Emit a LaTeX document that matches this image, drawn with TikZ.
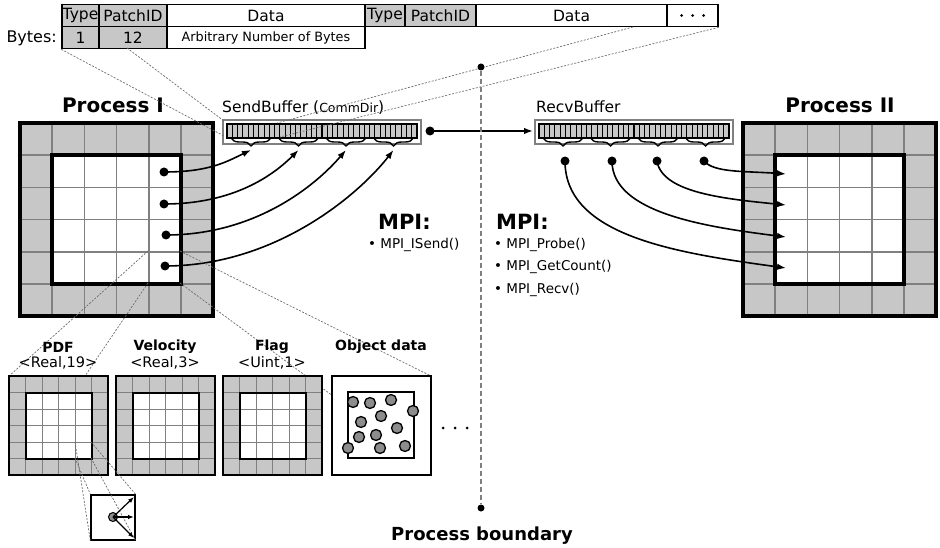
\documentclass[tikz,border=0pt]{standalone}
\usepackage{fontspec}
\setmainfont{DejaVu Sans}
\usetikzlibrary{arrows.meta,decorations.pathreplacing,calc}

\definecolor{cellgray}{gray}{0.78}
\definecolor{gridgray}{gray}{0.5}
\definecolor{guidegray}{gray}{0.42}
\definecolor{bufgray}{gray}{0.5}
\definecolor{partgray}{gray}{0.55}
\newcommand{\pxsize}[1]{\fontsize{#1}{#1}\selectfont}

% 6x6 patch with ghost layer: x, y (top left), cell size, grid line width, frame width
\newcommand{\patchgrid}[5]{%
  \fill[cellgray] (#1,#2) rectangle ++(6*#3,6*#3);
  \fill[white] (#1+#3,#2+#3) rectangle ++(4*#3,4*#3);
  \foreach \i in {1,...,5}{
    \draw[gridgray, line width=#4] (#1+\i*#3,#2) -- ++(0,6*#3);
    \draw[gridgray, line width=#4] (#1,#2+\i*#3) -- ++(6*#3,0);
  }
  \draw[line width=#5] (#1,#2) rectangle ++(6*#3,6*#3);
  \draw[line width=#5] (#1+#3,#2+#3) rectangle ++(4*#3,4*#3);
}

% communication buffer with four message slots: x, y (top left), prefix for brace tips
\newcommand{\msgbuf}[3]{%
  \draw[bufgray, line width=2.5pt, fill=white] (#1,#2) rectangle ++(198,24);
  \fill[cellgray] (#1+4,#2+4) rectangle ++(190,14);
  \foreach \k in {1,...,35} \draw[line width=0.8pt] ({#1+4+\k*190/36},#2+4) -- ++(0,14);
  \foreach \s in {1,2,3} \draw[line width=1.3pt] ({#1+4+\s*47.5},#2+4) -- ++(0,14);
  \draw[line width=1.1pt] (#1+4,#2+4) rectangle ++(190,14);
  \foreach \s in {0,...,3}{
    \draw[decorate, decoration={brace,mirror,amplitude=8pt}, line width=1.4pt]
      ({#1+4+\s*47.5+4},#2+18) -- ({#1+4+\s*47.5+44},#2+18);
    \coordinate (#3\s) at ({#1+4+\s*47.5+24},#2+30);
  }
}

\tikzset{
  hcell/.style={draw=black, line width=1.6pt, inner sep=0pt, minimum height=22pt, font=\pxsize{15.5}},
  conn/.style={line width=1.6pt, -{Latex[length=9pt,width=6.5pt]}},
  dotmark/.style={circle, fill=black, inner sep=0pt, minimum size=9pt},
  guide/.style={draw=guidegray, line width=0.7pt, dash pattern=on 2pt off 1.5pt},
  boundary/.style={draw=gray, line width=2.2pt, dash pattern=on 5pt off 3pt},
  title/.style={font=\bfseries\pxsize{20}},
  mpi/.style={font=\bfseries\pxsize{21}, anchor=base west, inner sep=0pt},
  item/.style={font=\pxsize{13.5}, anchor=base west, inner sep=0pt},
  fieldname/.style={font=\bfseries\pxsize{14}, inner sep=0pt},
  fieldtype/.style={font=\pxsize{14.5}, inner sep=0pt},
  particle/.style={draw=black, line width=1.3pt, fill=partgray},
}

\begin{document}
\begin{tikzpicture}[x=1pt,y=-1pt]
\useasboundingbox (0,0) rectangle (940,548);

% ---------- message layout ----------
\node[hcell, fill=cellgray, minimum width=37pt] (ty1) at (80.5,15.5) {Type};
\node[hcell, fill=cellgray, minimum width=68pt] (pid1) at (133,15.5) {PatchID};
\node[hcell, fill=white, minimum width=198pt] (dat1) at (266,15.5) {Data};
\node[hcell, fill=cellgray, minimum width=40pt] (ty2) at (385,15.5) {Type};
\node[hcell, fill=cellgray, minimum width=71pt] (pid2) at (440.5,15.5) {PatchID};
\node[hcell, fill=white, minimum width=191pt] (dat2) at (571.5,15.5) {Data};
\node[hcell, fill=white, minimum width=51pt] (more) at (692.5,15.5) {};
\foreach \dx in {-11,0,11} \fill ($(more.center)+(\dx,0)$) circle (1.5);
\node[hcell, fill=cellgray, minimum width=37pt] (by1) at (80.5,37.5) {1};
\node[hcell, fill=cellgray, minimum width=68pt] (by2) at (133,37.5) {12};
\node[hcell, fill=white, minimum width=198pt, font=\pxsize{12.8}] (by3) at (266,37.5) {Arbitrary Number of Bytes};
\node[font=\pxsize{16}, anchor=east, inner sep=0pt] (bytes) at (57,38) {Bytes:};

% ---------- process I ----------
\node[title] (p1) at (113,105) {Process I};
\patchgrid{20}{123}{32.2}{1.5pt}{3.5pt}

% ---------- process II ----------
\node[title] (p2) at (840,105) {Process II};
\patchgrid{743}{123}{32.2}{1.5pt}{3.5pt}

% ---------- buffers ----------
\node[font=\pxsize{15.5}, anchor=base west, inner sep=0pt] (sbl) at (222,113) {SendBuffer ({\pxsize{12.5}CommDir})};
\msgbuf{223}{120}{sb}
\node[font=\pxsize{15.5}, anchor=base west, inner sep=0pt] (rbl) at (536,113) {RecvBuffer};
\msgbuf{535}{120}{rb}

% ---------- guides from message layout to send buffer ----------
\coordinate (g1) at (224,136);
\coordinate (g2) at (224,121);
\coordinate (g3) at (277,123);
\coordinate (g4) at (280,137);
\draw[guide] (by1.south west) -- (g1);
\draw[guide] (127,48) -- (g2);
\draw[guide] (633,27) -- (g3);
\draw[guide] (more.south east) -- (g4);

% ---------- send side ----------
\node[dotmark] (s1) at (164,172) {};
\node[dotmark] (s2) at (164,204) {};
\node[dotmark] (s3) at (166,235) {};
\node[dotmark] (s4) at (165,266) {};
\draw[conn] (s1.center) .. controls +(45,0) and +(-25,12) .. (sb0);
\draw[conn] (s2.center) .. controls +(70,0) and +(-25,25) .. (sb1);
\draw[conn] (s3.center) .. controls +(90,0) and +(-30,35) .. (sb2);
\draw[conn] (s4.center) .. controls +(110,0) and +(-35,45) .. (sb3);

\node[dotmark] (sdot) at (430,131) {};
\coordinate (rin) at (533,131);
\draw[conn] (sdot.center) -- (rin);

% ---------- receive side ----------
\node[dotmark] (r1) at (565,161) {};
\node[dotmark] (r2) at (612,161) {};
\node[dotmark] (r3) at (657,161) {};
\node[dotmark] (r4) at (704,161) {};
\coordinate (c1) at (786,174);
\coordinate (c2) at (786,205);
\coordinate (c3) at (786,237);
\coordinate (c4) at (786,268);
\draw[conn] (r4.center) .. controls +(10,12) and +(-40,-3) .. (c1);
\draw[conn] (r3.center) .. controls +(5,32) and +(-60,-6) .. (c2);
\draw[conn] (r2.center) .. controls +(0,52) and +(-80,-10) .. (c3);
\draw[conn] (r1.center) .. controls +(0,75) and +(-110,-15) .. (c4);

% ---------- MPI calls ----------
\node[mpi] (mpis) at (378,230) {MPI:};
\node[item] (isend) at (368,248) {• MPI\_ISend()};
\node[mpi] (mpir) at (496,230) {MPI:};
\node[item] (probe) at (494,249) {• MPI\_Probe()};
\node[item] (count) at (494,271) {• MPI\_GetCount()};
\node[item] (recv) at (494,293) {• MPI\_Recv()};

% ---------- guides from one cell to the field data ----------
\coordinate (f1) at (9,376);
\coordinate (f2) at (85,376);
\coordinate (f3) at (431,376);
\coordinate (f4) at (333,396);
\draw[guide] (148,251) -- (f1);
\draw[guide] (148,283) -- (f2);
\draw[guide] (180,251) -- (f3);
\draw[guide] (180,283) -- (f4);

% ---------- fields ----------
\node[fieldname] (pdf) at (58,347) {PDF};
\node[fieldtype] (pdft) at (58,363) {<Real,19>};
\patchgrid{9}{376}{16.5}{1pt}{2pt}
\node[fieldname] (vel) at (165,347) {Velocity};
\node[fieldtype] (velt) at (165,363) {<Real,3>};
\patchgrid{116}{376}{16.5}{1pt}{2pt}
\node[fieldname] (flag) at (272,347) {Flag};
\node[fieldtype] (flagt) at (272,363) {<Uint,1>};
\patchgrid{223}{376}{16.5}{1pt}{2pt}
\node[fieldname] (obj) at (381,347) {Object data};
\draw[line width=2pt, fill=white] (332,376) rectangle (431,475);
\draw[line width=2pt] (348,392) rectangle (414,458);
\foreach \p in {(353,402),(370,403),(391,400),(413,411),(361,422),(381,416),(397,428),(359,437),(376,435),(348,448),(380,448),(405,446)}
  \draw[particle] \p circle (5.5);
\foreach \dx in {443,455,467} \fill (\dx,428) circle (1.5);

% ---------- lattice cell detail ----------
\coordinate (k1) at (75,442);
\coordinate (k2) at (75,458);
\coordinate (k3) at (91,442);
\coordinate (k4) at (91,458);
\node[draw=black, line width=1.3pt, fill=white, minimum width=44pt, minimum height=45pt, inner sep=0pt] (cellbox) at (113,517.5) {};
\draw[guide] (k1) -- (cellbox.south west);
\draw[guide] (k2) -- (cellbox.north west);
\draw[guide] (k3) -- (cellbox.north east);
\draw[guide] (k4) -- (cellbox.south east);
\node[circle, draw=black, line width=1pt, fill=partgray, minimum size=9pt, inner sep=0pt] (node0) at (113,517) {};
\coordinate (d1) at (134,497);
\coordinate (d2) at (134,517);
\coordinate (d3) at (134,538);
\foreach \d in {d1,d2,d3} \draw[line width=1.2pt, -{Latex[length=6pt,width=4.5pt]}] (node0.center) -- (\d);

% ---------- process boundary ----------
\node[dotmark, minimum size=7pt] (bt) at (481,67) {};
\node[dotmark, minimum size=7pt] (bb) at (481,508) {};
\draw[boundary] (bt) -- (bb);
\node[font=\bfseries\pxsize{18}] (pbl) at (482,536) {Process boundary};
\end{tikzpicture}
\end{document}
